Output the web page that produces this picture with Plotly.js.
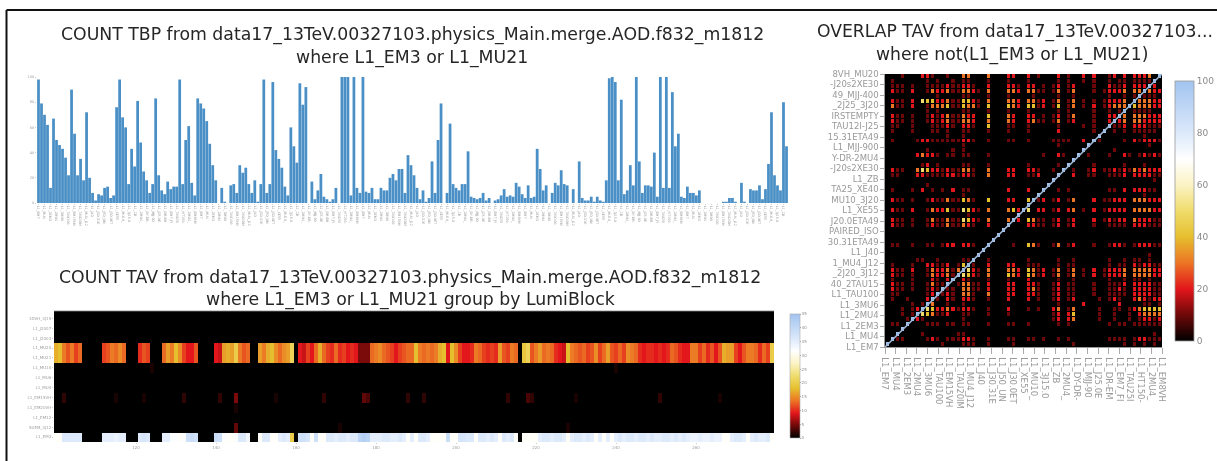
<!DOCTYPE html>
<html><head><meta charset="utf-8">
<script src="https://cdn.plot.ly/plotly-3.0.1.min.js"></script>
<style>html,body{margin:0;padding:0;background:#fff;overflow:hidden}#c{width:1217px;height:461px;filter:blur(0.7px)}</style>
</head><body><div id="c"></div>
<script>
const overlapX=['L1_EM7','L1_MU4','L1_2EM3','L1_2MU4','L1_3MU6','L1_TAU100','L1_EM15VH','L1_TAU20IM','L1_MU4_J12','L1_J40','L1_J30.31E','L1_J50_UN','L1_J30.0ET','L1_XE55','L1_MU10_','L1_3J15.0','L1_ZB','L1_2MU4_','L1_DY-DR-','L1_MJJ-90','L1_J25.0E','L1_DR-EM','L1_EM7_FI','L1_TAU25I','L1_HT150-','L1_2MU4_','L1_EM8VH'];
const overlapY=['L1_EM7','L1_MU4','L1_2EM3','L1_2MU4','L1_3MU6','L1_TAU100','40_2TAU15','_2J20_3J12','1_MU4_J12','L1_J40','30.31ETA49','PAIRED_ISO','J20.0ETA49','L1_XE55','MU10_3J20','TA25_XE40','L1_ZB','-J20s2XE30','Y-DR-2MU4','L1_MJJ-900','15.31ETA49','TAU12I-J25','IRSTEMPTY','_2J25_3J20','49_MJJ-400','-J20s2XE30','8VH_MU20'];

const tbpCounts=[98,79,70,62,12,67,50,46,43,36,22,90,55,22,35,18,72,20,8,2,7,6,12,13,4,6,76,
98,68,60,15,43,29,81,48,25,18,8,15,83,22,10,7,17,11,13,13,98,15,50,61,16,6,83,79,75,65,47,30,18,0,12,1,0,14,15,8,30,24,28,15,8,18,1,15,98,8,15,96,42,35,28,13,6,60,45,32,95,78,92,0,17,3,10,23,5,3,1,3,12,0,100,100,100,6,100,12,8,100,9,8,12,3,3,12,10,10,20,23,18,27,
27,8,38,30,22,12,3,10,1,4,33,8,50,79,0,8,63,15,12,10,15,15,41,5,4,3,4,8,2,4,0,2,3,6,11,5,6,5,16,13,7,4,14,4,5,43,27,10,14,0,8,16,14,26,15,14,0,11,0,33,4,2,2,5,1,5,2,1,18,99,100,96,18,82,7,10,30,14,100,33,8,14,14,13,40,5,100,12,100,12,88,45,55,5,4,13,8,8,6,10,0,0,0,0,0,0,0,1,1,4,4,1,0,16,1,0,11,10,10,14,3,11,31,72,22,14,10,80,45];
const tbpTickTexts=overlapX;

const tavRows=['1DVH_3J15','L1_J2007','L1_J2003','L1_MU20','L1_MU21','L1_MU10','L1_MU6','L1_MU4','L1_EM15VH','L1_EM20VH','L1_EM12','SUEM_3J12','L1_EM3'];
const muCounts=[17,18,14,12,14,11,13,0,0,0,0,0,11,12,14,13,15,13,0,0,0,10,12,11,0,0,0,13,16,14,18,15,11,9,9,12,0,0,0,0,9,8,16,17,16,20,14,12,13,0,0,16,14,17,18,15,13,15,16,21,0,9,8,11,9,13,17,13,11,10,13,10,11,9,10,9,5,5,5,13,14,15,13,12,11,9,11,12,13,
13,18,14,13,14,13,14,17,18,9,18,15,11,9,9,10,14,13,11,10,11,10,16,12,11,14,13,0,19,21,12,14,16,13,14,13,10,9,8,18,14,13,12,13,11,12,15,11,13,16,12,11,13,11,15,14,13,10,9,10,10,9,10,9,10,13,12,10,9,9,14,14,11,13,10,12,9,12,17,16,16,11,9,12,14,14,13,10,13,11,20];
const em3Counts=[31,31,36,36,36,36,36,0,0,0,0,0,35,35,35,34,35,35,0,0,0,36,37,36,0,0,0,35,35,32,32,31,32,38,39,38,0,0,0,0,39,38,32,31,31,32,36,36,33,0,0,31,36,36,31,31,35,36,35,20,0,38,38,37,31,38,31,31,36,36,35,36,36,35,36,36,41,42,41,35,35,35,36,36,35,35,36,35,31,
35,31,36,36,35,31,31,31,31,39,31,31,37,37,36,36,31,36,36,35,36,35,31,36,35,36,31,0,31,31,31,31,35,36,36,35,36,36,35,31,35,36,36,35,36,35,31,35,31,35,31,35,36,35,36,36,35,36,36,35,36,35,35,36,36,35,36,35,36,35,34,34,35,34,34,35,34,34,31,31,35,36,36,35,31,35,36,35,35,36,31];
const em15Cols=[2,15,22,32,41,45,55,67,77,78,88,92,113,118,119,130,151,166];
const em15Vals=[2,1,1,2,2,5,1,2,4,3,2,2,2,3,2,1,2,1];
const suemCols=[45,71,128];
const suemVals=[4,1,1];
const mu10Cols=[24,140];
const mu10Vals=[1,1];
const em20Cols=[45];
const em20Vals=[1];
const lbTicks=[120,140,160,180,200,220,240,260];
const firstLumiBlock=100;

const overlapCells=[
"0001000221 0010033000 3000220020 1000201002 0200120202 22309",
"0100000010 1001011000 1000100010 0000101001 0100101101 11190",
"0111010011 1121122100 2000221022 0101201200 0100211202 22920",
"0211020013 2231133210 3000332033 1101301300 0101222303 39322",
"0000000000 1000011000 1000100001 0000100100 0000100101 91110",
"0211020544 2231144210 3000332033 1201301301 0101222309 33322",
"0311020013 3341143310 4000432044 1201401301 0201233394 33322",
"0000000010 1000011000 1000100010 0000101000 0100101901 11100",
"0211010012 1231132200 4000320022 0101201300 0100229303 33222",
"0211010012 1231133200 3000320023 1101301200 0100292303 32222",
"0110010001 1121022100 4000110010 0000100001 0100911202 22111",
"0100010001 1010011000 1000100010 0000200000 0109010101 11110",
"0000000000 0010010000 0000000000 0000000000 0090000000 01000",
"0100001221 1111122100 1000110010 0001111002 0910000102 12221",
"0000000000 0000010000 0000000000 0000100000 9000000000 00100",
"0000000010 0001010000 0000000000 0000000009 0000010000 00000",
"0000002322 1011011000 1000000000 0100210090 1000100210 12121",
"0000000000 0000000000 0000000000 0000000900 0000000000 00000",
"0000000120 1000011000 1000000010 0000109000 0100000100 01000",
"0211003542 2121133100 3000220022 1001090100 1201121213 23222",
"0110002211 1122122100 3000220011 2000900200 1100111202 22211",
"0000000000 0000000000 0000000000 0009000000 0000000000 00010",
"0000000010 0000000000 0000000000 0090000000 0000000000 00000",
"0100010201 0102011000 0000200020 0900101000 0000110202 22110",
"0000000000 0000010000 0000000000 9000000000 0000000000 01000",
"0211010012 1131143100 4000220049 1201201300 0201122203 33222",
"0000000000 0000000000 0000000090 0000000000 0000000000 00000",
"0211020013 2241154210 3000342950 2201202301 0201222203 33322",
"0000000000 0000001000 0000009000 0000000000 0000000000 00000",
"0211010013 1131154210 3000392043 1101201200 0201212203 22211",
"0211010012 1131132100 2000900022 1101201200 0100111102 22111",
"0000000000 0000000000 0009000000 0000000000 0000000000 00000",
"0000000000 0000000000 0090000000 0000000000 0000000000 00000",
"0000000000 0000000000 0900000000 0000000000 0000000000 00000",
"0110010011 0122022100 9000010043 1001301200 0100122101 22211",
"0000000000 0000000009 0000000000 0000000000 0000000000 00000",
"0000000000 0000000090 0000000000 0000000000 0000000000 00100",
"0000001100 1000011900 1000000010 0000100100 0000100101 10100",
"0100010022 1120149100 2000220011 1000101100 0000101102 12211",
"0211020013 2231395210 3000332043 1201301301 0201222303 33322",
"0211010013 2231954210 3000432043 1201301301 0201222303 33322",
"0100010002 1029021000 1000100020 0000100100 0000100101 10100",
"0211010013 1190133110 2000220022 1001201100 0100111202 22211",
"0211010012 1911033110 2000220023 1001201100 0100112102 22211",
"0110000012 9121033100 3000220022 1001201100 0100111102 22211",
"0100100029 1021022100 1000200020 1001201200 0010121002 32122",
"0000010193 0010010000 0000000000 0000100002 0000002000 01101",
"0001012954 2232122100 1000200010 1002301300 0010011012 34444",
"0001019543 1120011000 1000100000 0001202400 0010010010 23333",
"0000192100 0000010000 0000000000 0001202300 0010010010 12212",
"0110900011 1011011000 1000110010 0000101000 0000101101 11111",
"0009000000 0000000000 0000000000 0000000000 0000000000 00000",
"0090000100 0000110000 0000000000 0000000000 0000000000 00010",
"0911000012 1011122100 1000110011 0100101000 0000111101 22111",
"9000000000 0100011100 1000010000 0000000100 0000000101 01010"];
const diagonalEnds=[0,55];

const W=1217,H=461;
const dx=(a,b)=>[a/W,b/W], dy=(a,b)=>[1-b/H,1-a/H];
const heatColors=[[0,'#000000'],[0.1,'#6e0808'],[0.2,'#e2161b'],[0.3,'#ec7424'],[0.4,'#e6bf2e'],[0.5,'#efdc6c'],[0.6,'#fbf3c4'],[0.7,'#ffffff'],[0.8,'#dce9fb'],[1,'#a2c4f0']];
const axisGray='#8a8a8a';

const nBars=tbpCounts.length;
const barTickVals=[],barTickText=[];
for(let i=0;i<nBars;i+=2){barTickVals.push(i);barTickText.push(tbpTickTexts[(i/2)%tbpTickTexts.length]);}

const nCols=muCounts.length;
const lumiBlocks=muCounts.map((_,i)=>firstLumiBlock+i);
const sparseRow=(cols,vals)=>{const r=new Array(nCols).fill(0);cols.forEach((c,i)=>r[c]=vals[i]);return r;};
const blank=()=>new Array(nCols).fill(0);
const tavZ=[blank(),blank(),blank(),muCounts,muCounts,sparseRow(mu10Cols,mu10Vals),blank(),blank(),sparseRow(em15Cols,em15Vals),sparseRow(em20Cols,em20Vals),blank(),sparseRow(suemCols,suemVals),em3Counts];

const cellRows=overlapCells.map(s=>s.replace(/ /g,'').split('').map(d=>d==='9'?100:Number(d)*10));
const cellIdx=cellRows.map((_,i)=>i+0.5);
const overlapZ=cellRows.slice().reverse();
const overlapTicks=overlapX.map((_,i)=>i*55/26);

const traces=[
{type:'bar',x:tbpCounts.map((_,i)=>i),y:tbpCounts,marker:{color:'#4a8fc5',line:{width:0}},xaxis:'x',yaxis:'y',hoverinfo:'skip'},
{type:'heatmap',x:lumiBlocks,y:tavRows.map((_,i)=>i),z:tavZ,zmin:0,zmax:45,colorscale:heatColors,xaxis:'x2',yaxis:'y2',hoverinfo:'skip',
 colorbar:{x:790/W,xanchor:'left',xpad:0,ypad:0,y:1-376/H,yanchor:'middle',len:124/H,thickness:10,outlinewidth:0.6,outlinecolor:'#aaa',tickvals:[0,5,10,15,20,25,30,35,40,45],tickfont:{size:4,color:axisGray,family:'DejaVu Sans'},ticklen:1,tickcolor:'#aaa'}},
{type:'heatmap',x:cellIdx,y:cellIdx,z:overlapZ,zmin:0,zmax:100,xgap:2,ygap:1,colorscale:heatColors,xaxis:'x3',yaxis:'y3',hoverinfo:'skip',
 colorbar:{x:1175/W,xanchor:'left',xpad:0,ypad:0,y:1-211/H,yanchor:'middle',len:260/H,thickness:19,outlinewidth:0.8,outlinecolor:'#999',tickvals:[0,20,40,60,80,100],tickfont:{size:9,color:axisGray,family:'DejaVu Sans'},ticklen:0}},
{type:'scatter',mode:'lines',x:diagonalEnds,y:diagonalEnds,line:{color:'#9db6d6',width:1.6},xaxis:'x3',yaxis:'y3',hoverinfo:'skip'}
];

const tinyGray={size:3.4,color:'#a0a0a0',family:'DejaVu Sans'};
const title=(text,x,y,size)=>({text,x:x/W,y:1-y/H,xref:'paper',yref:'paper',xanchor:'center',yanchor:'middle',showarrow:false,font:{family:'DejaVu Sans',size,color:'#262626'}});
const blackBox=(xa,ya)=>({type:'rect',xref:xa+' domain',yref:ya+' domain',x0:0,x1:1,y0:0,y1:1,fillcolor:'#000',line:{width:0},layer:'below'});
const layout={
 width:W,height:H,margin:{l:0,r:0,t:0,b:0},paper_bgcolor:'#ffffff',plot_bgcolor:'rgba(0,0,0,0)',showlegend:false,bargap:0.08,
 xaxis:{domain:dx(37,788),anchor:'y',range:[-0.5,nBars-0.5],tickmode:'array',tickvals:barTickVals,ticktext:barTickText,tickangle:90,tickfont:tinyGray,ticklen:1,tickcolor:'#ccc',showgrid:false,zeroline:false,showline:false},
 yaxis:{domain:dy(77,203),anchor:'x',range:[0,100],tickvals:[0,20,40,60,80,100],tickfont:{size:3.5,color:'#a0a0a0',family:'DejaVu Sans'},ticklen:1,tickcolor:'#ccc',showgrid:false,zeroline:false,showline:false},
 xaxis2:{domain:dx(54,774),anchor:'y2',range:[firstLumiBlock-0.5,firstLumiBlock+nCols-0.5],tickvals:lbTicks,tickfont:{size:4,color:'#a0a0a0',family:'DejaVu Sans'},ticklen:1,tickcolor:'#ccc',showgrid:false,zeroline:false,showline:false},
 yaxis2:{domain:dy(311,442),anchor:'x2',range:[12.5,-0.75],tickmode:'array',tickvals:tavRows.map((_,i)=>i),ticktext:tavRows,tickfont:{size:4,color:'#a0a0a0',family:'DejaVu Sans'},ticklen:1,tickcolor:'#ccc',showgrid:false,zeroline:false,showline:false},
 xaxis3:{domain:dx(885,1162),anchor:'y3',range:[0,55],tickmode:'array',tickvals:overlapTicks,ticktext:overlapX,tickangle:90,tickfont:{size:8.5,color:'#999',family:'DejaVu Sans'},ticks:'outside',ticklen:6,tickcolor:'#aaa',ticklabelstandoff:2,showgrid:false,zeroline:false,showline:true,linecolor:'#555',linewidth:0.6},
 yaxis3:{domain:dy(74,347),anchor:'x3',range:[0,55],tickmode:'array',tickvals:overlapTicks,ticktext:overlapY,tickfont:{size:8.5,color:'#999',family:'DejaVu Sans'},ticks:'outside',ticklen:4,tickcolor:'#aaa',showgrid:false,zeroline:false,showline:true,linecolor:'#555',linewidth:0.6},
 annotations:[
  title('COUNT TBP from data17_13TeV.00327103.physics_Main.merge.AOD.f832_m1812',412,35,17.3),
  title('where L1_EM3 or L1_MU21',412,57,17.3),
  title('COUNT TAV from data17_13TeV.00327103.physics_Main.merge.AOD.f832_m1812',410,277,17.3),
  title('where L1_EM3 or L1_MU21 group by LumiBlock',410,299,17.3),
  title('OVERLAP TAV from data17_13TeV.00327103...',1015,32,17.2),
  title('where not(L1_EM3 or L1_MU21)',1012,55,17.2)
 ],
 shapes:[
  blackBox('x3','y3'),
  {type:'rect',xref:'paper',yref:'paper',x0:54/W,x1:774/W,y0:1-432/H,y1:1-311/H,fillcolor:'#000',line:{width:0},layer:'below'},
  {type:'line',xref:'paper',yref:'paper',x0:6.5/W,x1:6.5/W,y0:0,y1:1-10/H,line:{color:'#111',width:2}},
  {type:'line',xref:'paper',yref:'paper',x0:6.5/W,x1:1,y0:1-10/H,y1:1-10/H,line:{color:'#111',width:2}},
  {type:'line',xref:'paper',yref:'paper',x0:54/W,x1:774/W,y0:1-311/H,y1:1-311/H,line:{color:'#888',width:0.8}}
 ]
};
Plotly.newPlot('c',traces,layout,{staticPlot:true,displayModeBar:false});
</script></body></html>
